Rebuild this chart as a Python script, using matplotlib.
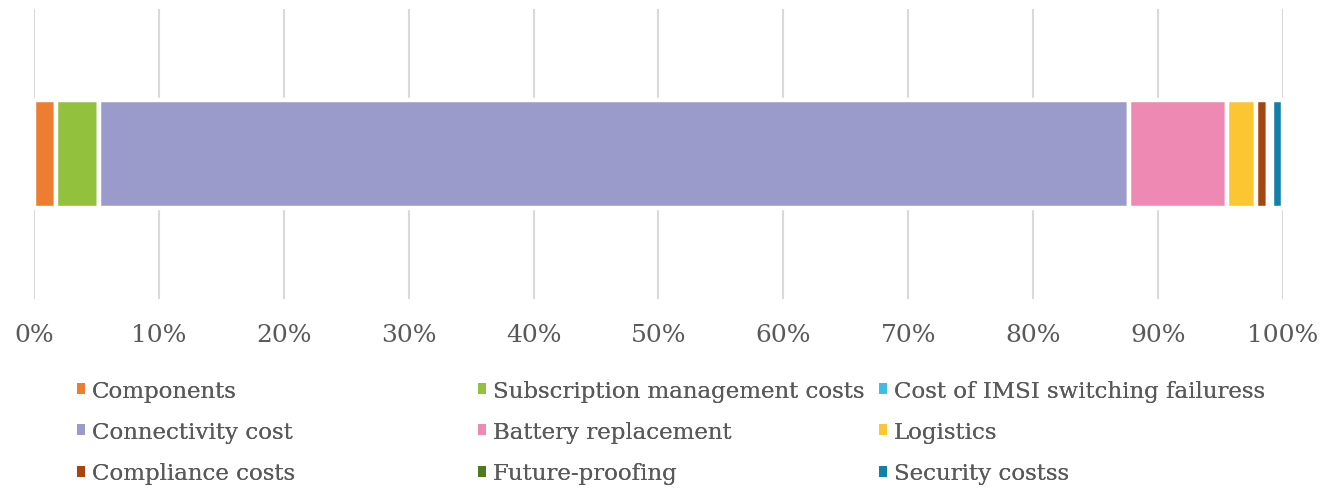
import numpy as np
import matplotlib.pyplot as plt
from matplotlib.patches import Patch
from matplotlib.ticker import PercentFormatter

categories = ['Components', 'Subscription management costs', 'Cost of IMSI switching failuress',
              'Connectivity cost', 'Battery replacement', 'Logistics',
              'Compliance costs', 'Future-proofing', 'Security costss']
shares = [1.8, 3.4, 0.0, 82.5, 7.8, 2.3, 1.0, 0.3, 0.9]
colors = ['#ED7D31', '#92C13E', '#3DBDE8', '#9B9BCB', '#EE89B3',
          '#FCC632', '#A5450F', '#4D7A1F', '#1380A8']

plt.rcParams['font.family'] = ['DejaVu Serif']
txt = '#595959'

fig = plt.figure(figsize=(13.22, 5.02), dpi=100)
ax = fig.add_axes([0.0257, 0.402, 0.9448, 0.578])

left = 0.0
for name, val, col in zip(categories, shares, colors):
    ax.barh(0, val, left=left, height=0.37, color=col, edgecolor='white',
            linewidth=3.2, zorder=3)
    left += val

ax.set_xlim(0, 100)
ax.set_ylim(-0.5, 0.5)
ax.set_xticks(np.arange(0, 101, 10))
ax.xaxis.set_major_formatter(PercentFormatter(decimals=0))
ax.set_yticks([])
ax.grid(axis='x', color='#D9D9D9', linewidth=1.5, zorder=0)
for s in ax.spines.values():
    s.set_visible(False)
ax.tick_params(axis='x', length=0, labelsize=18, labelcolor=txt, pad=17)

# legend laid out in three columns, one legend per column
cols = [[0, 3, 6], [1, 4, 7], [2, 5, 8]]
xpos = [0.058, 0.3615, 0.665]
for idx, x in zip(cols, xpos):
    handles = [Patch(facecolor=colors[i], edgecolor='none') for i in idx]
    labels = [categories[i] for i in idx]
    leg = fig.legend(handles, labels, loc='upper left', bbox_to_anchor=(x, 0.242),
                     frameon=False, fontsize=16.5, handlelength=0.35, handleheight=0.35,
                     handletextpad=0.3, labelspacing=0.85, borderpad=0,
                     borderaxespad=0, labelcolor=txt)
    fig.add_artist(leg)

fig.savefig('out.png', dpi=100)
